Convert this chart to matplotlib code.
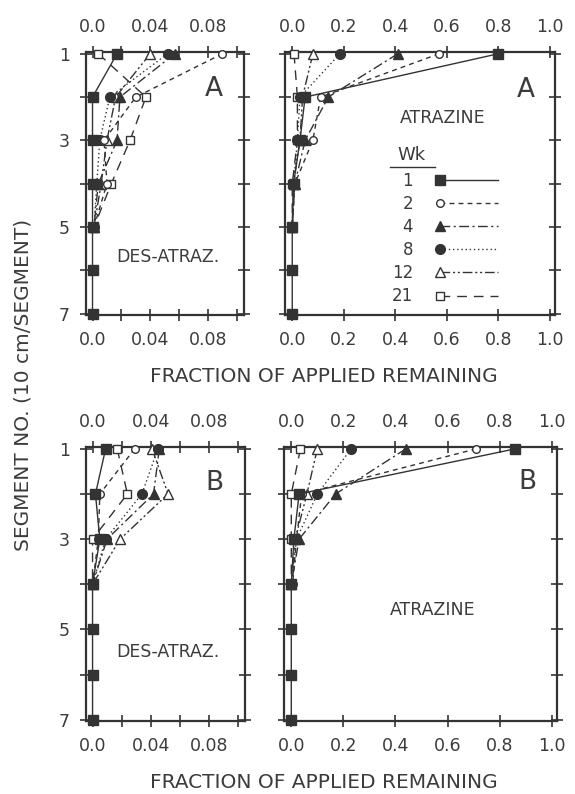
import numpy as np
import matplotlib
matplotlib.use('Agg')
import matplotlib.pyplot as plt
from matplotlib.legend_handler import HandlerLine2D

plt.rcParams['font.family'] = 'DejaVu Sans'

ink = '#333333'
txt = '#3c3c3c'

segments = [1, 2, 3, 4, 5, 6, 7]
weeks = [1, 2, 4, 8, 12, 21]

# fraction of applied remaining in each segment (week -> values from segment 1 down)
des_a = {1: [0.017, 0.0, 0.0, 0.0, 0.0, 0.0, 0.0],
         2: [0.090, 0.030, 0.008, 0.010, 0.001],
         4: [0.057, 0.019, 0.017, 0.004, 0.001],
         8: [0.052, 0.012, 0.005, 0.003, 0.001],
         12: [0.040, 0.016, 0.010, 0.006, 0.001],
         21: [0.004, 0.037, 0.026, 0.013, 0.001]}
atr_a = {1: [0.80, 0.05, 0.03, 0.005, 0.0, 0.0, 0.0],
         2: [0.57, 0.11, 0.08, 0.010, 0.0],
         4: [0.41, 0.14, 0.05, 0.010, 0.0],
         8: [0.185, 0.03, 0.02, 0.005, 0.0],
         12: [0.08, 0.04, 0.03, 0.005, 0.0],
         21: [0.007, 0.02, 0.02, 0.0, 0.0]}
des_b = {1: [0.009, 0.002, 0.005, 0.0, 0.0, 0.0, 0.0],
         2: [0.029, 0.005, 0.004, 0.0],
         4: [0.046, 0.042, 0.010, 0.0],
         8: [0.045, 0.034, 0.009, 0.0],
         12: [0.041, 0.052, 0.019, 0.0],
         21: [0.017, 0.024, 0.0, 0.0]}
atr_b = {1: [0.86, 0.03, 0.01, 0.0, 0.0, 0.0, 0.0],
         2: [0.71, 0.04, 0.02, 0.005],
         4: [0.44, 0.17, 0.03, 0.0],
         8: [0.23, 0.10, 0.02, 0.0],
         12: [0.10, 0.06, 0.015, 0.0],
         21: [0.035, 0.0, 0.0, 0.0]}

styles = {1: dict(marker='s', ls='-', mfc=ink, ms=7, zorder=4),
          2: dict(marker='o', ls=(0, (3.5, 3)), mfc='white', ms=5.5, zorder=3),
          4: dict(marker='^', ls=(0, (7, 2.5, 1.5, 2.5)), mfc=ink, ms=7.5, zorder=3),
          8: dict(marker='o', ls=(0, (1, 2)), mfc=ink, ms=7, zorder=3),
          12: dict(marker='^', ls=(0, (7, 2, 1.5, 2, 1.5, 2)), mfc='white', ms=6.5, zorder=3),
          21: dict(marker='s', ls=(0, (7, 5)), mfc='white', ms=5.5, zorder=3)}


class LeftMarker(HandlerLine2D):
    # iba jeden marker na lavom konci ciary v legende
    def create_artists(self, *args, **kw):
        arts = super().create_artists(*args, **kw)
        for a in arts:
            a.set_markevery([0])
        return arts


def kresli(ax, data, small):
    hs = []
    for w in weeks[::-1]:
        v = data[w]
        st = styles[w]
        h, = ax.plot(v, segments[:len(v)], color=ink, lw=1.0, mec=ink, mew=1.0,
                     clip_on=False, **st)
        hs.append(h)
    ax.set_ylim(7.03, 0.96)
    ax.set_yticks(segments)
    if small:
        ax.set_xlim(-0.0045, 0.105)
        ax.set_xticks([0, 0.02, 0.04, 0.06, 0.08, 0.10])
        ax.set_xticklabels(['0.0', '', '0.04', '', '0.08', ''])
        ax.set_yticklabels(['1', '', '3', '', '5', '', '7'])
    else:
        ax.set_xlim(-0.028, 1.02)
        ax.set_xticks([0, 0.2, 0.4, 0.6, 0.8, 1.0])
        ax.set_xticklabels(['0.0', '0.2', '0.4', '0.6', '0.8', '1.0'])
    ax.tick_params(direction='inout', length=9, width=1.2, color=ink,
                   top=True, right=True, labeltop=True, labelleft=small,
                   labelsize=12.5, labelcolor=txt, pad=7)
    for s in ax.spines.values():
        s.set_linewidth(1.6)
        s.set_color(ink)
    return hs[::-1]


fig = plt.figure(figsize=(5.75, 7.94), dpi=100)
ax1 = fig.add_axes([0.1496, 0.6033, 0.2748, 0.3312])
ax2 = fig.add_axes([0.4957, 0.6033, 0.4696, 0.3312])
ax3 = fig.add_axes([0.1496, 0.0919, 0.2765, 0.3451])
ax4 = fig.add_axes([0.4939, 0.0919, 0.4748, 0.3451])

kresli(ax1, des_a, True)
hs = kresli(ax2, atr_a, False)
kresli(ax3, des_b, True)
kresli(ax4, atr_b, False)

ax1.text(0.81, 0.86, 'A', transform=ax1.transAxes, fontsize=19, color=txt, ha='center', va='center')
ax1.text(0.52, 0.22, 'DES-ATRAZ.', transform=ax1.transAxes, fontsize=12.5, color=txt, ha='center', va='center')
ax2.text(0.89, 0.856, 'A', transform=ax2.transAxes, fontsize=19, color=txt, ha='center', va='center')
ax2.text(0.585, 0.749, 'ATRAZINE', transform=ax2.transAxes, fontsize=12.5, color=txt, ha='center', va='center')
ax3.text(0.81, 0.869, 'B', transform=ax3.transAxes, fontsize=19, color=txt, ha='center', va='center')
ax3.text(0.516, 0.252, 'DES-ATRAZ.', transform=ax3.transAxes, fontsize=12.5, color=txt, ha='center', va='center')
ax4.text(0.89, 0.872, 'B', transform=ax4.transAxes, fontsize=19, color=txt, ha='center', va='center')
ax4.text(0.546, 0.405, 'ATRAZINE', transform=ax4.transAxes, fontsize=12.5, color=txt, ha='center', va='center')

# legenda
ax2.text(0.47, 0.608, 'Wk', transform=ax2.transAxes, fontsize=13, color=txt, ha='center', va='center')
ax2.plot([0.389, 0.556], [0.563, 0.563], transform=ax2.transAxes, color=ink, lw=1.0)
leg = ax2.legend(hs, [str(w) for w in weeks], loc='upper right', bbox_to_anchor=(0.789, 0.545),
                 markerfirst=False, frameon=False, borderpad=0, borderaxespad=0,
                 handlelength=3.5, handletextpad=1.6, labelspacing=0.31, fontsize=12,
                 labelcolor=txt, handler_map={h: LeftMarker(numpoints=2, marker_pad=0) for h in hs})

fig.text(0.563, 1 - 377 / 794, 'FRACTION OF APPLIED REMAINING', fontsize=14.5, color=txt, ha='center', va='center')
fig.text(0.563, 1 - 783 / 794, 'FRACTION OF APPLIED REMAINING', fontsize=14.5, color=txt, ha='center', va='center')
fig.text(0.04, 1 - 385 / 794, 'SEGMENT NO. (10 cm/SEGMENT)', fontsize=14.5, color=txt, ha='center', va='center', rotation=90)

fig.savefig('out.png', dpi=100)
